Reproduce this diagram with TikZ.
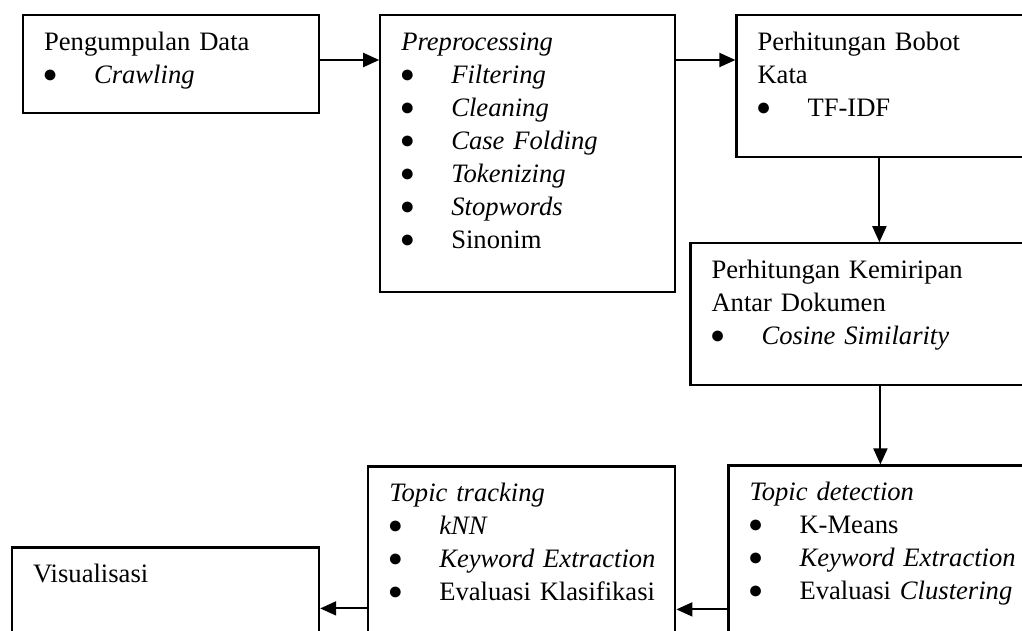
\documentclass[tikz,border=0pt]{standalone}
\usepackage{fontspec}
\setmainfont{Liberation Serif}
\usetikzlibrary{arrows.meta}
\usetikzlibrary{positioning}
\tikzset{
    blok/.style = {draw, line width=1.1pt, inner xsep=10.5pt, inner ysep=0pt,
                 text height=17.5pt, align=left,
                 font=\fontsize{13.3pt}{16.5pt}\selectfont},
}
\newcommand{\butir}[1]{\mbox{\makebox[25pt][l]{\hspace{-0.7pt}\raisebox{0.3pt}{\fontsize{12.5pt}{12.5pt}\selectfont ●}}#1}}

\begin{document}
\begin{tikzpicture}[->,>={Triangle[length=8pt,width=7pt]},line width=1pt]
 \useasboundingbox (0,0) rectangle (511pt,-315.5pt);
 \node (n1) [blok,text width=127pt,text depth=31.5pt,anchor=north west] at (11pt,-7pt)
   {Pengumpulan Data\\ \butir{\textit{Crawling}}};
 \node (n2) [blok,text width=126.5pt,text depth=121pt,right=29.5pt of n1.north east,anchor=north west]
   {\textit{Preprocessing}\\
    \butir{\textit{Filtering}}\\
    \butir{\textit{Cleaning}}\\
    \butir{\textit{Case Folding}}\\
    \butir{\textit{Tokenizing}}\\
    \butir{\textit{Stopwords}}\\
    \butir{Sinonim}};
 \node (n3) [blok,text width=140pt,text depth=53.5pt,right=29.5pt of n2.north east,anchor=north west]
   {Perhitungan Bobot\\ Kata\\ \butir{TF-IDF}};
 \node (n4) [blok,text width=170pt,text depth=53.5pt,below=42pt of n3.south west,anchor=north west,xshift=-23pt]
   {Perhitungan Kemiripan\\ Antar Dokumen\\ \butir{\textit{Cosine Similarity}}};
 \node (n5) [blok,text width=150pt,text depth=100pt,below=39pt of n4.south west,anchor=north west,xshift=19pt]
   {\textit{Topic detection}\\
    \butir{K-Means}\\
    \butir{\textit{Keyword Extraction}}\\
    \butir{Evaluasi \textit{Clustering}}};
 \node (n6) [blok,text width=132.5pt,text depth=100pt,left=25.5pt of n5.north west,anchor=north east,yshift=-0.5pt]
   {\textit{Topic tracking}\\
    \butir{\textit{kNN}}\\
    \butir{\textit{Keyword Extraction}}\\
    \butir{Evaluasi Klasifikasi}};
 \node (n7) [blok,text width=132.5pt,text depth=100pt,left=23.5pt of n6.north west,anchor=north east,yshift=-40.5pt]
   {Visualisasi};

 \coordinate (k3) at ([xshift=72pt]n3.south west);
 \coordinate (k4) at ([xshift=95.5pt]n4.south west);
 \coordinate (k5) at ([yshift=-72.5pt]n5.north west);
 \coordinate (k6) at ([yshift=-71.5pt]n6.north west);

 \draw ([yshift=-23pt]n1.north east) -- ([yshift=-23pt]n2.north west);
 \draw ([yshift=-23pt]n2.north east) -- ([yshift=-23pt]n3.north west);
 \draw (k3) -- (k3 |- n4.north);
 \draw (k4) -- (k4 |- n5.north);
 \draw (k5) -- (k5 -| n6.east);
 \draw (k6) -- (k6 -| n7.east);
\end{tikzpicture}
\end{document}
